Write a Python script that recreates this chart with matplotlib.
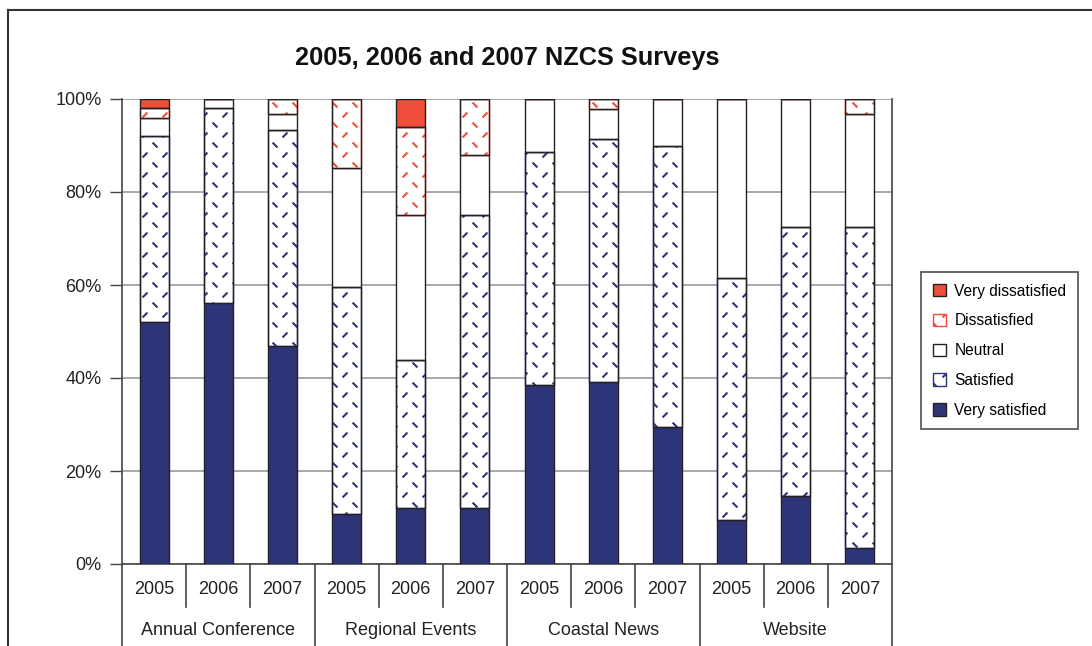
import numpy as np
import matplotlib.pyplot as plt
import matplotlib.hatch as mhatch
from matplotlib.path import Path
from matplotlib.patches import Patch

plt.rcParams['font.family'] = ['Liberation Sans', 'DejaVu Sans']

groups = ["Annual Conference", "Regional Events", "Coastal News", "Website"]
years = ["2005", "2006", "2007"]

# percent of respondents, order: AC 05/06/07, RE 05/06/07, CN 05/06/07, W 05/06/07
very_satisfied = [52.1, 56.1, 46.9, 10.8, 12.0, 12.0, 38.5, 39.1, 29.5, 9.5, 14.6, 3.4]
satisfied = [40.0, 41.9, 46.4, 48.8, 31.9, 63.0, 50.0, 52.2, 60.4, 51.9, 57.8, 69.0]
neutral = [3.9, 2.0, 3.4, 25.5, 31.1, 12.9, 11.5, 6.6, 10.1, 38.6, 27.6, 24.3]
dissatisfied = [2.0, 0.0, 3.3, 14.9, 19.0, 12.1, 0.0, 2.1, 0.0, 0.0, 0.0, 3.3]
very_dissatisfied = [2.0, 0.0, 0.0, 0.0, 6.0, 0.0, 0.0, 0.0, 0.0, 0.0, 0.0, 0.0]

navy = "#2E3478"
red = "#EF4E3A"


class DashHatch(mhatch.HatchPatternBase):
    """Sparse pattern of short '/' and '\\' dashes (Excel style), used for '*'."""

    def __init__(self, hatch, density):
        self.n = 5 if "*" in hatch else 0
        self.num_vertices = self.n * self.n * 4

    def set_vertices_and_codes(self, vertices, codes):
        step = 1.0 / self.n
        d = 0.017
        k = 0
        for i in range(self.n):
            for j in range(self.n):
                cx = i * step + 0.05
                cy = j * step + 0.05
                vertices[k:k + 4] = [(cx - d, cy - d), (cx + d, cy + d),
                                     (cx + 0.1 - d, cy + 0.1 + d), (cx + 0.1 + d, cy + 0.1 - d)]
                codes[k:k + 4] = [Path.MOVETO, Path.LINETO, Path.MOVETO, Path.LINETO]
                k += 4


mhatch._hatch_types = [h for h in mhatch._hatch_types if h is not mhatch.Stars] + [DashHatch]

plt.rcParams['hatch.linewidth'] = 1.5

fig = plt.figure(figsize=(10.92, 6.46), dpi=100)
ax = fig.add_axes([122 / 1092, 1 - 564 / 646, 770 / 1092, 465 / 646])

x = np.arange(len(very_satisfied))
w = 0.45
series = [
    ("Very satisfied", very_satisfied, dict(color=navy)),
    ("Satisfied", satisfied, dict(color="white", hatch="*")),
    ("Neutral", neutral, dict(color="white")),
    ("Dissatisfied", dissatisfied, dict(color="white", hatch="*")),
    ("Very dissatisfied", very_dissatisfied, dict(color=red)),
]
hatch_cols = {"Satisfied": navy, "Dissatisfied": red}

bottom = np.zeros(len(x))
handles = []
for name, vals, kw in series:
    vals = np.array(vals)
    bars = ax.bar(x, vals, w, bottom=bottom, edgecolor="#222222", linewidth=1.0,
                  zorder=3, **kw)
    if name in hatch_cols:
        for b in bars:
            b.set_edgecolor(hatch_cols[name])
        # outline drawn separately so the hatch keeps its colour
        ax.bar(x, vals, w, bottom=bottom, facecolor="none", edgecolor="#222222",
               linewidth=1.0, zorder=4)
    bottom += vals
    h = Patch(facecolor=kw["color"], edgecolor=hatch_cols.get(name, "#222222"),
              hatch=kw.get("hatch"), label=name)
    handles.append(h)

ax.set_xlim(-0.5, len(x) - 0.5)
ax.set_ylim(0, 100)
ax.set_yticks([0, 20, 40, 60, 80, 100])
ax.set_yticklabels([f"{v}%" for v in [0, 20, 40, 60, 80, 100]], fontsize=13, color="#222222")
ax.tick_params(axis="y", length=8.6, width=1, color="#444444", pad=6)
ax.set_xticks([])
ax.yaxis.grid(True, color="#999999", linewidth=1.2, zorder=0)
ax.set_axisbelow(True)
for s in ["left", "bottom", "right"]:
    ax.spines[s].set_color("#444444")
    ax.spines[s].set_linewidth(1.2)
ax.spines["top"].set_visible(False)

# multi-level category axis
trans = ax.get_xaxis_transform()
for i, yr in enumerate(years * len(groups)):
    ax.text(i, -0.054, yr, transform=trans, ha="center", va="center", fontsize=13,
            color="#222222")
for g, name in enumerate(groups):
    ax.text(g * 3 + 1, -0.142, name, transform=trans, ha="center", va="center",
            fontsize=13, color="#222222")
for i in range(len(x) + 1):
    if i % 3 == 0:
        y_end = -0.2
    else:
        y_end = -0.0925
    ax.plot([i - 0.5, i - 0.5], [0, y_end], transform=trans, color="#444444",
            linewidth=1.2, clip_on=False)

fig.text(507 / 1092, 1 - 58 / 646, "2005, 2006 and 2007 NZCS Surveys", ha="center",
         va="center", fontsize=18.3, fontweight="bold", color="#111111")

leg = fig.legend(handles=handles[::-1], loc="upper left",
                 bbox_to_anchor=(921 / 1092, 1 - 272 / 646), borderaxespad=0,
                 fontsize=11.2, frameon=True, fancybox=False, edgecolor="#222222",
                 handlelength=0.85, handleheight=0.85, handletextpad=0.55,
                 labelspacing=0.95, borderpad=0.75)
leg.get_frame().set_linewidth(1.2)

# outer chart border (left and top only visible)
fig.add_artist(plt.Line2D([8 / 1092, 8 / 1092], [0, 1 - 10 / 646], transform=fig.transFigure,
                          color="#333333", linewidth=1.5))
fig.add_artist(plt.Line2D([8 / 1092, 1], [1 - 10 / 646, 1 - 10 / 646],
                          transform=fig.transFigure, color="#333333", linewidth=1.5))

fig.savefig("out.png", dpi=100)
